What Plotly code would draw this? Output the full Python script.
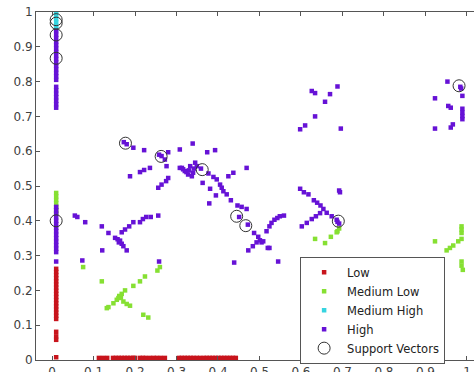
import plotly.graph_objects as go

# ---- data ----
low_x = [0.01]*21 + [0.113, 0.123, 0.133, 0.147, 0.154, 0.161, 0.168, 0.175, 0.182, 0.189, 0.196, 0.200,
                     0.212, 0.219, 0.226, 0.236, 0.245, 0.253, 0.262, 0.272, 0.306, 0.313, 0.320, 0.327,
                     0.334, 0.341, 0.349, 0.357, 0.366, 0.373, 0.380, 0.387, 0.394, 0.401, 0.408, 0.415,
                     0.422, 0.429, 0.436, 0.443]
low_y = [0.262, 0.253, 0.244, 0.235, 0.226, 0.217, 0.208, 0.199, 0.190, 0.181, 0.172, 0.163, 0.154, 0.145,
         0.136, 0.127, 0.118, 0.081, 0.068, 0.058, 0.008] + [0.006]*40

ml_x = [0.01]*7 + [0.075, 0.120, 0.132, 0.136, 0.148, 0.156, 0.162, 0.166, 0.172, 0.180, 0.188, 0.176, 0.196,
                   0.212, 0.224, 0.254, 0.260, 0.220, 0.232, 0.160, 0.168,
                   0.634, 0.658, 0.672, 0.688, 0.686, 0.692,
                   0.923, 0.951, 0.959, 0.967, 0.979, 0.987, 0.987, 0.987, 0.987, 0.987, 0.987, 0.990]
ml_y = [0.48, 0.47, 0.46, 0.45, 0.44, 0.43, 0.42] + [0.267, 0.226, 0.149, 0.152, 0.163, 0.173, 0.184, 0.179,
                   0.168, 0.161, 0.156, 0.200, 0.213, 0.226, 0.240, 0.257, 0.267, 0.130, 0.122, 0.178, 0.190,
                   0.348, 0.336, 0.354, 0.370, 0.367, 0.378,
                   0.341, 0.315, 0.322, 0.329, 0.341, 0.348, 0.365, 0.375, 0.384, 0.283, 0.271, 0.259]

mh_x = [0.01]*6
mh_y = [1.0, 0.99, 0.98, 0.97, 0.96, 0.95]

high_x = [0.01]*22 + [0.01]*15 + [
    0.055, 0.061, 0.080, 0.120, 0.136, 0.152, 0.161, 0.168, 0.172, 0.180, 0.121, 0.168, 0.176, 0.186,
    0.196, 0.212, 0.219, 0.227, 0.238, 0.256, 0.073, 0.258, 0.256, 0.264, 0.275, 0.280, 0.164, 0.158,
    0.173, 0.180, 0.196, 0.222, 0.188, 0.212, 0.222, 0.236, 0.264, 0.272, 0.280, 0.276, 0.258,
    0.308, 0.339, 0.374, 0.393, 0.308, 0.313, 0.320, 0.328, 0.337, 0.340, 0.345, 0.333, 0.349, 0.359,
    0.377, 0.389, 0.397, 0.405, 0.409, 0.413, 0.421, 0.431, 0.425, 0.437, 0.469, 0.363, 0.381, 0.395,
    0.379, 0.447, 0.457, 0.469, 0.316, 0.324, 0.330, 0.342,
    0.451, 0.472, 0.487, 0.497, 0.501, 0.493, 0.484, 0.473, 0.505, 0.524, 0.517, 0.524, 0.529, 0.536,
    0.543, 0.549, 0.559, 0.439, 0.545, 0.509, 0.520,
    0.598, 0.607, 0.618, 0.631, 0.639, 0.647, 0.654, 0.662, 0.674, 0.686, 0.694, 0.692, 0.636, 0.626,
    0.614, 0.602, 0.646, 0.688, 0.692,
    0.626, 0.634, 0.670, 0.688, 0.658, 0.634, 0.610, 0.598, 0.696,
    0.953, 0.984, 0.986, 0.989, 0.923, 0.955, 0.961, 0.989, 0.989, 0.989, 0.989, 0.923, 0.961, 0.966]
high_y = [0.945, 0.935, 0.925, 0.915, 0.905, 0.895, 0.885, 0.875, 0.865, 0.855, 0.845, 0.835, 0.825, 0.815,
          0.805, 0.785, 0.775, 0.765, 0.755, 0.745, 0.735, 0.725] + \
         [0.44, 0.43, 0.42, 0.41, 0.40, 0.39, 0.38, 0.37, 0.36, 0.35, 0.34, 0.33, 0.32, 0.31, 0.283] + [
    0.415, 0.411, 0.396, 0.384, 0.365, 0.351, 0.338, 0.334, 0.327, 0.315, 0.315, 0.367, 0.375, 0.384,
    0.396, 0.396, 0.405, 0.411, 0.411, 0.415, 0.286, 0.283, 0.495, 0.504, 0.514, 0.523, 0.343, 0.347,
    0.626, 0.620, 0.610, 0.603, 0.528, 0.540, 0.546, 0.552, 0.586, 0.576, 0.597, 0.557, 0.590,
    0.605, 0.622, 0.597, 0.603, 0.552, 0.552, 0.543, 0.533, 0.528, 0.538, 0.567, 0.557, 0.557, 0.550,
    0.536, 0.526, 0.519, 0.504, 0.495, 0.485, 0.476, 0.459, 0.528, 0.538, 0.552, 0.509, 0.492, 0.473,
    0.450, 0.444, 0.440, 0.434, 0.548, 0.540, 0.545, 0.550,
    0.411, 0.389, 0.365, 0.354, 0.344, 0.338, 0.327, 0.315, 0.338, 0.322, 0.370, 0.384, 0.394, 0.403,
    0.408, 0.413, 0.415, 0.280, 0.283, 0.341, 0.322,
    0.492, 0.482, 0.476, 0.459, 0.452, 0.444, 0.434, 0.423, 0.413, 0.403, 0.482, 0.487, 0.413, 0.405,
    0.394, 0.384, 0.422, 0.397, 0.392,
    0.773, 0.767, 0.764, 0.786, 0.742, 0.700, 0.674, 0.663, 0.665,
    0.800, 0.785, 0.780, 0.759, 0.752, 0.730, 0.725, 0.722, 0.711, 0.701, 0.692, 0.665, 0.668, 0.677]

sv_x = [0.01, 0.01, 0.01, 0.01, 0.01, 0.177, 0.263, 0.362, 0.445, 0.467, 0.690, 0.981]
sv_y = [0.978, 0.968, 0.934, 0.867, 0.400, 0.623, 0.585, 0.547, 0.413, 0.386, 0.399, 0.788]

tick_vals = [0, 0.1, 0.2, 0.3, 0.4, 0.5, 0.6, 0.7, 0.8, 0.9, 1]
tick_text = ["0", "0.1", "0.2", "0.3", "0.4", "0.5", "0.6", "0.7", "0.8", "0.9", "1"]

# ---- figure ----
FONT = "DejaVu Sans"
sq = dict(symbol="square", size=4.5, line=dict(width=0))

fig = go.Figure()
fig.add_trace(go.Scatter(x=low_x, y=low_y, mode="markers", name="Low",
                         marker=dict(color="#c8141c", **sq)))
fig.add_trace(go.Scatter(x=ml_x, y=ml_y, mode="markers", name="Medium Low",
                         marker=dict(color="#86e032", **sq)))
fig.add_trace(go.Scatter(x=mh_x, y=mh_y, mode="markers", name="Medium High",
                         marker=dict(color="#36d4e0", **sq)))
fig.add_trace(go.Scatter(x=high_x, y=high_y, mode="markers", name="High",
                         marker=dict(color="#6612d6", **sq)))
fig.add_trace(go.Scatter(x=sv_x, y=sv_y, mode="markers", name="Support Vectors",
                         marker=dict(symbol="circle-open", size=12, color="#333333",
                                     line=dict(width=1, color="#333333"))))

axis_common = dict(showgrid=False, zeroline=False, showline=True, linecolor="#555555", linewidth=1,
                   ticks="inside", ticklen=4, tickcolor="#555555", automargin=False,
                   tickvals=tick_vals, ticktext=tick_text,
                   tickfont=dict(family=FONT, size=12, color="#404040"))

fig.update_layout(
    width=474, height=372,
    margin=dict(l=36, r=0, t=12, b=12, autoexpand=False),
    paper_bgcolor="white", plot_bgcolor="white",
    xaxis=dict(range=[-0.0386, 1.017], mirror="allticks", ticklabelstandoff=1, **axis_common),
    yaxis=dict(range=[0, 1], mirror=False, **axis_common),
    showlegend=True,
    legend=dict(x=0.603, y=0.297, xanchor="left", yanchor="top",
                bgcolor="white", bordercolor="#555555", borderwidth=1,
                font=dict(family=FONT, size=11.5, color="#222222"),
                itemwidth=36, tracegroupgap=0),
)

fig.write_html("out.html")
